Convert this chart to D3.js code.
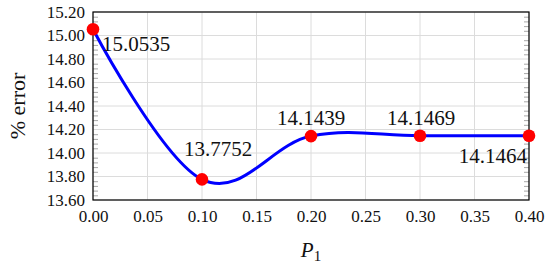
<!DOCTYPE html>
<html>
<head>
<meta charset="utf-8">
<script src="https://cdn.jsdelivr.net/npm/d3@7"></script>
<style>
  body { margin: 0; background: #fff; }
  svg text { font-family: "Liberation Serif", "Times New Roman", Times, serif; fill: #111; }
</style>
</head>
<body>
<div id="main"></div>
<script>
// data
var pValues = [0.00, 0.10, 0.20, 0.30, 0.40];
var errValues = [15.0535, 13.7752, 14.1439, 14.1469, 14.1464];
var pointLabels = ['15.0535', '13.7752', '14.1439', '14.1469', '14.1464'];
var xTicks = [0.00, 0.05, 0.10, 0.15, 0.20, 0.25, 0.30, 0.35, 0.40];
var yTicks = [13.60, 13.80, 14.00, 14.20, 14.40, 14.60, 14.80, 15.00, 15.20];

// where each value label sits relative to its marker
var labelPlace = [
    { anchor: 'start', dx: 9, dy: 22 },
    { anchor: 'middle', dx: 16, dy: -23 },
    { anchor: 'middle', dx: 0, dy: -11 },
    { anchor: 'middle', dx: 1, dy: -11 },
    { anchor: 'end', dx: -2, dy: 27 }
];

var serif = '"Liberation Serif", "Times New Roman", Times, serif';

var W = 550, H = 268;
var margin = { top: 12, right: 21, bottom: 68, left: 93 };
var width = W - margin.left - margin.right,
    height = H - margin.top - margin.bottom;

var svg = d3.select('#main').append('svg')
    .attr('width', W)
    .attr('height', H)
    .attr('font-family', serif);

var g = svg.append('g')
    .attr('transform', 'translate(' + margin.left + ',' + margin.top + ')');

var xScale = d3.scaleLinear().domain([0, 0.4]).range([0, width]);
var yScale = d3.scaleLinear().domain([13.6, 15.2]).range([height, 0]);

// grid
g.append('g').selectAll('line')
    .data(xTicks)
    .enter().append('line')
    .attr('x1', d => xScale(d)).attr('x2', d => xScale(d))
    .attr('y1', 0).attr('y2', height)
    .attr('stroke', '#dcdcdc').attr('stroke-width', 1);

g.append('g').selectAll('line')
    .data(yTicks)
    .enter().append('line')
    .attr('y1', d => yScale(d)).attr('y2', d => yScale(d))
    .attr('x1', 0).attr('x2', width)
    .attr('stroke', '#dcdcdc').attr('stroke-width', 1);

// minor y ticks, inside on both sides
var minor = [];
for (var i = 0; i < yTicks.length - 1; i++) {
    for (var k = 1; k < 5; k++) minor.push(yTicks[i] + k * 0.04);
}
var yMinorL = d3.axisRight(yScale).tickValues(minor).tickSize(5).tickFormat('');
var yMinorR = d3.axisLeft(yScale).tickValues(minor).tickSize(5).tickFormat('');
g.append('g').call(yMinorL).call(s => s.select('.domain').remove())
    .selectAll('line').attr('stroke', '#a8a8a8');
g.append('g').attr('transform', 'translate(' + width + ',0)').call(yMinorR)
    .call(s => s.select('.domain').remove())
    .selectAll('line').attr('stroke', '#a8a8a8');

// axes labels
var xAxis = d3.axisBottom(xScale).tickValues(xTicks).tickSize(0).tickPadding(9)
    .tickFormat(d3.format('.2f'));
var yAxis = d3.axisLeft(yScale).tickValues(yTicks).tickSize(0).tickPadding(8)
    .tickFormat(d3.format('.2f'));

g.append('g').attr('transform', 'translate(0,' + height + ')').call(xAxis)
    .attr('font-family', serif).attr('font-size', 17)
    .call(s => s.select('.domain').remove())
    .selectAll('text')
    .attr('fill', '#111')
    .attr('dy', '0.75em');

g.append('g').call(yAxis)
    .attr('font-family', serif).attr('font-size', 17)
    .call(s => s.select('.domain').remove())
    .selectAll('text')
    .attr('fill', '#111');

// frame
g.append('rect')
    .attr('width', width).attr('height', height)
    .attr('fill', 'none').attr('stroke', '#000').attr('stroke-width', 1.2);

// curve
var line = d3.line()
    .x((d, i) => xScale(pValues[i]))
    .y(d => yScale(d))
    .curve(d3.curveCardinal.tension(-0.1));

g.append('path')
    .datum(errValues)
    .attr('d', line)
    .attr('fill', 'none')
    .attr('stroke', '#0000ff')
    .attr('stroke-width', 3);

g.selectAll('circle')
    .data(errValues)
    .enter().append('circle')
    .attr('cx', (d, i) => xScale(pValues[i]))
    .attr('cy', d => yScale(d))
    .attr('r', 6.3)
    .attr('fill', '#ff0000');

g.selectAll('text.val')
    .data(errValues)
    .enter().append('text')
    .attr('class', 'val')
    .attr('x', (d, i) => xScale(pValues[i]) + labelPlace[i].dx)
    .attr('y', d => yScale(d))
    .attr('dy', (d, i) => labelPlace[i].dy)
    .attr('text-anchor', (d, i) => labelPlace[i].anchor)
    .attr('font-size', 21)
    .text((d, i) => pointLabels[i]);

// axis titles
var xt = svg.append('text')
    .attr('x', margin.left + width / 2)
    .attr('y', 257)
    .attr('text-anchor', 'middle')
    .attr('font-size', 21);
xt.append('tspan').attr('font-style', 'italic').text('P');
xt.append('tspan').attr('dy', 4).attr('font-size', 15).text('1');

svg.append('text')
    .attr('transform', 'translate(25,' + (margin.top + height / 2) + ') rotate(-90)')
    .attr('text-anchor', 'middle')
    .attr('font-size', 22)
    .text('% error');
</script>
</body>
</html>
